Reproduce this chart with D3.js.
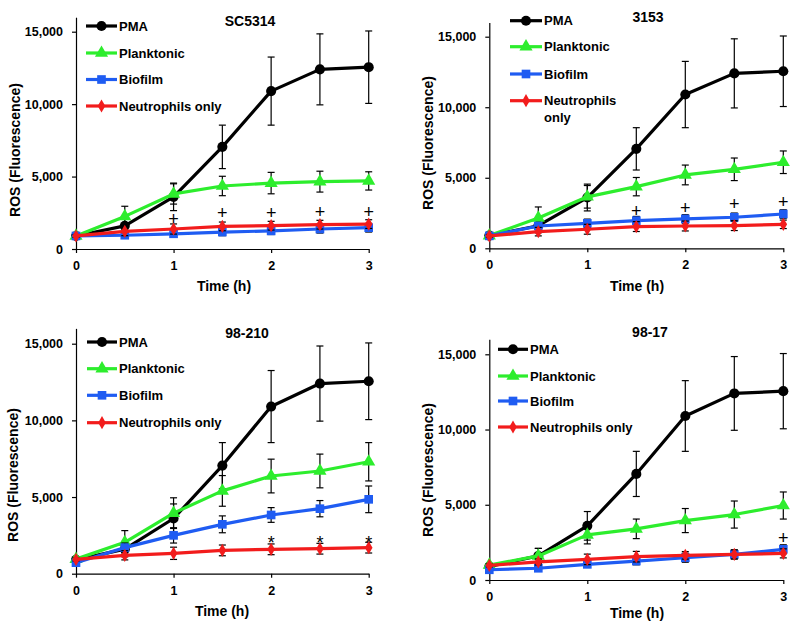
<!DOCTYPE html>
<html>
<head>
<meta charset="utf-8">
<script src="https://cdn.jsdelivr.net/npm/d3@7"></script>
<style>
  html, body { margin: 0; padding: 0; background: #fff; }
  svg { display: block; font-family: "Liberation Sans", Arial, sans-serif; }
</style>
</head>
<body>
<svg id="chart" width="800" height="632"></svg>
<script>
// ---------------- data ----------------
const times = [0, 0.5, 1, 1.5, 2, 2.5, 3];
const xTicks = [0, 1, 2, 3];
const yTicks = [0, 5000, 10000, 15000];
const seriesNames = ["PMA", "Planktonic", "Biofilm", "Neutrophils only"];
const strains = ["SC5314", "3153", "98-210", "98-17"];

const pmaMean = [900, 1600, 3600, 7050, 10900, 12400, 12550];
const pmaErr  = [150, 500, 950, 1500, 2350, 2450, 2500];

const sc5314Planktonic    = [900, 2250, 3800, 4350, 4550, 4650, 4700];
const sc5314PlanktonicErr = [100, 700, 700, 670, 740, 720, 630];
const sc5314Biofilm       = [900, 950, 1050, 1170, 1250, 1380, 1470];
const sc5314BiofilmErr    = [100, 200, 250, 250, 250, 280, 300];
const sc5314Neut          = [900, 1220, 1380, 1560, 1610, 1680, 1720];
const sc5314NeutErr       = [100, 300, 350, 300, 300, 300, 300];

const s3153Planktonic    = [900, 2150, 3650, 4370, 5200, 5600, 6100];
const s3153PlanktonicErr = [100, 780, 800, 650, 700, 800, 800];
const s3153Biofilm       = [880, 1580, 1770, 1960, 2080, 2200, 2430];
const s3153BiofilmErr    = [100, 250, 300, 300, 300, 300, 300];
const s3153Neut          = [880, 1180, 1350, 1540, 1580, 1610, 1700];
const s3153NeutErr       = [100, 300, 350, 350, 350, 350, 300];

const s98210Planktonic    = [950, 2050, 3950, 5400, 6370, 6700, 7300];
const s98210PlanktonicErr = [100, 760, 1000, 1000, 1100, 1100, 1250];
const s98210Biofilm       = [720, 1700, 2500, 3220, 3830, 4240, 4850];
const s98210BiofilmErr    = [100, 300, 500, 550, 480, 530, 870];
const s98210Neut          = [930, 1200, 1330, 1520, 1590, 1630, 1700];
const s98210NeutErr       = [100, 300, 400, 350, 350, 350, 350];

const s9817Planktonic    = [1000, 1600, 3000, 3400, 3950, 4350, 4950];
const s9817PlanktonicErr = [100, 500, 600, 650, 800, 900, 900];
const s9817Biofilm       = [680, 780, 1040, 1260, 1480, 1700, 2040];
const s9817BiofilmErr    = [100, 150, 200, 250, 300, 300, 300];
const s9817Neut          = [970, 1200, 1370, 1550, 1640, 1700, 1770];
const s9817NeutErr       = [100, 200, 350, 350, 250, 300, 300];

// significance marks: [time, value]
const sc5314Marks = [[1, 2100], [1.5, 2500], [2, 2500], [2.5, 2550], [3, 2600]];
const s3153Marks  = [[1.5, 2700], [2, 2900], [2.5, 3150], [3, 3300]];
const s98210Marks = [[2, 2450], [2.5, 2450], [3, 2450]];
const s9817Marks  = [[3, 2800]];
const markSymbols = ["+", "+", "*", "+"];

const panelData = [
  { means: [pmaMean, sc5314Planktonic, sc5314Biofilm, sc5314Neut],
    errs:  [pmaErr, sc5314PlanktonicErr, sc5314BiofilmErr, sc5314NeutErr], marks: sc5314Marks },
  { means: [pmaMean, s3153Planktonic, s3153Biofilm, s3153Neut],
    errs:  [pmaErr, s3153PlanktonicErr, s3153BiofilmErr, s3153NeutErr], marks: s3153Marks },
  { means: [pmaMean, s98210Planktonic, s98210Biofilm, s98210Neut],
    errs:  [pmaErr, s98210PlanktonicErr, s98210BiofilmErr, s98210NeutErr], marks: s98210Marks },
  { means: [pmaMean, s9817Planktonic, s9817Biofilm, s9817Neut],
    errs:  [pmaErr, s9817PlanktonicErr, s9817BiofilmErr, s9817NeutErr], marks: s9817Marks }
];

// ---------------- layout & style ----------------
const colors = ["#000000", "#2ded2d", "#1f5cf2", "#f21c1c"];
const symbols = [d3.symbolCircle, d3.symbolTriangle, d3.symbolSquare, d3.symbolDiamond];
const symSizes = [80, 75, 75, 50];

const layout = [
  { x0: 76, x1: 368.7, y0: 249, y15: 31.7, title: [250, 21], xl: [224, 286], yl: [15, 150],
    leg: { l0: 86, l1: 117, tx: 119, ys: [26, 53, 79.5, 106] }, split: false },
  { x0: 489.3, x1: 783.3, y0: 248.3, y15: 36.7, title: [648, 17], xl: [637, 286], yl: [428, 143],
    leg: { l0: 510, l1: 542, tx: 544, ys: [20.7, 46.7, 74, 100.7] }, split: true },
  { x0: 76, x1: 368.7, y0: 573.7, y15: 343.7, title: [247, 333], xl: [222, 611], yl: [13, 475],
    leg: { l0: 87, l1: 117, tx: 119, ys: [342, 368.7, 395.3, 422.7] }, split: false },
  { x0: 489.3, x1: 783.3, y0: 580, y15: 354.3, title: [650, 332], xl: [637, 613], yl: [428, 470],
    leg: { l0: 498, l1: 528, tx: 530, ys: [349.3, 376, 401, 427] }, split: false }
];

const svg = d3.select("#chart");

layout.forEach((L, pi) => {
  const P = panelData[pi];
  const g = svg.append("g");
  const x = d3.scaleLinear().domain([0, 3]).range([L.x0, L.x1]);
  const yTop = L.y0 - (L.y0 - L.y15) * 16 / 15;
  const y = d3.scaleLinear().domain([0, 16000]).range([L.y0, yTop]);

  // axes
  const ya = g.append("g").attr("transform", `translate(${L.x0},0)`)
    .call(d3.axisLeft(y).tickValues(yTicks).tickFormat(d3.format(",")).tickSize(4).tickSizeOuter(0).tickPadding(9));
  const xa = g.append("g").attr("transform", `translate(0,${L.y0})`)
    .call(d3.axisBottom(x).tickValues(xTicks).tickFormat(d3.format("d")).tickSize(4).tickSizeOuter(0).tickPadding(8));
  [ya, xa].forEach(a => {
    a.selectAll("path.domain").attr("stroke", "#000").attr("stroke-width", 1.2);
    a.selectAll(".tick line").attr("stroke", "#000").attr("stroke-width", 1.2);
    a.selectAll("text").attr("font-size", 12.5).attr("font-weight", "bold").attr("fill", "#000")
      .attr("font-family", "Liberation Sans, Arial, sans-serif");
  });

  // axis titles
  g.append("text").attr("x", L.xl[0]).attr("y", L.xl[1]).attr("dy", "0.35em")
    .attr("text-anchor", "middle").attr("font-size", 14).attr("font-weight", "bold").text("Time (h)");
  g.append("text").attr("transform", `translate(${L.yl[0]},${L.yl[1]}) rotate(-90)`).attr("dy", "0.35em")
    .attr("text-anchor", "middle").attr("font-size", 14).attr("font-weight", "bold").text("ROS (Fluorescence)");

  // title
  g.append("text").attr("x", L.title[0]).attr("y", L.title[1]).attr("dy", "0.35em")
    .attr("text-anchor", "middle").attr("font-size", 14).attr("font-weight", "bold").text(strains[pi]);

  // series
  const line = d3.line().x((d, i) => x(times[i])).y(d => y(d));
  P.means.forEach((m, si) => {
    const sg = g.append("g");
    const e = P.errs[si];
    // error bars
    m.forEach((v, i) => {
      const cx = x(times[i]);
      sg.append("line").attr("x1", cx).attr("x2", cx).attr("y1", y(v - e[i])).attr("y2", y(v + e[i]))
        .attr("stroke", "#000").attr("stroke-width", 1.2);
      [v - e[i], v + e[i]].forEach(b => {
        sg.append("line").attr("x1", cx - 3.5).attr("x2", cx + 3.5).attr("y1", y(b)).attr("y2", y(b))
          .attr("stroke", "#000").attr("stroke-width", 1.2);
      });
    });
    sg.append("path").datum(m).attr("d", line).attr("fill", "none")
      .attr("stroke", colors[si]).attr("stroke-width", 3.2).attr("stroke-linejoin", "round");
    sg.selectAll("path.mk").data(m).enter().append("path").attr("class", "mk")
      .attr("transform", (d, i) => `translate(${x(times[i])},${y(d)})`)
      .attr("d", d3.symbol().type(symbols[si]).size(symSizes[si]))
      .attr("fill", colors[si]);
  });

  // significance marks
  g.selectAll("text.sig").data(P.marks).enter().append("text").attr("class", "sig")
    .attr("x", d => x(d[0])).attr("y", d => y(d[1]))
    .attr("dy", markSymbols[pi] === "*" ? "0.7em" : "0.35em")
    .attr("text-anchor", "middle").attr("font-size", markSymbols[pi] === "*" ? 18 : 18)
    .attr("fill", "#000").text(markSymbols[pi]);

  // legend
  seriesNames.forEach((name, si) => {
    const ly = L.leg.ys[si];
    g.append("line").attr("x1", L.leg.l0).attr("x2", L.leg.l1).attr("y1", ly).attr("y2", ly)
      .attr("stroke", colors[si]).attr("stroke-width", 3.2);
    g.append("path").attr("transform", `translate(${(L.leg.l0 + L.leg.l1) / 2},${ly})`)
      .attr("d", d3.symbol().type(symbols[si]).size(symSizes[si])).attr("fill", colors[si]);
    const t = g.append("text").attr("x", L.leg.tx).attr("y", ly).attr("dy", "0.35em")
      .attr("font-size", 13).attr("font-weight", "bold").attr("fill", "#000");
    if (L.split && si === 3) {
      t.append("tspan").attr("x", L.leg.tx).text("Neutrophils");
      t.append("tspan").attr("x", L.leg.tx).attr("dy", "1.25em").text("only");
    } else {
      t.text(name);
    }
  });
});
</script>
</body>
</html>
